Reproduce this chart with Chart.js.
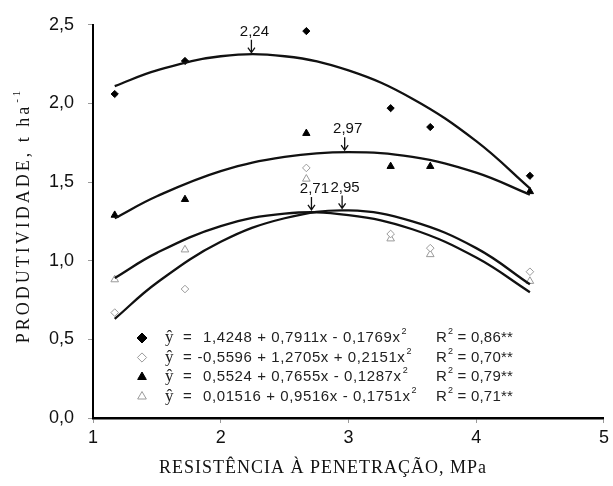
<!DOCTYPE html>
<html>
<head>
<meta charset="utf-8">
<script src="https://cdn.jsdelivr.net/npm/chart.js@4.4.1/dist/chart.umd.min.js"></script>
<style>
  html, body { margin: 0; padding: 0; background: #fff; }
</style>
</head>
<body>
<canvas id="grafico" width="613" height="486"></canvas>
<script>
// valores (resistência à penetração x produtividade)
const resistencia = [1.17, 1.72, 2.67, 3.33, 3.64, 4.42];
const prodCheio = [2.06, 2.27, 2.46, 1.97, 1.85, 1.54];     // losango cheio
const prodVazio = [0.67, 0.82, 1.59, 1.17, 1.08, 0.93];     // losango vazio
const prodTriCheio = [1.29, 1.39, 1.81, 1.60, 1.60, 1.44];  // triângulo cheio
const prodTriVazio = [0.88, 1.07, 1.52, 1.14, 1.04, 0.87];  // triângulo vazio

// curvas ajustadas, lidas ao longo do traço
const curvaX = [1.17, 1.5, 2.0, 2.5, 3.0, 3.5, 4.0, 4.42];
const curvaCheio = [2.11, 2.21, 2.30, 2.30, 2.21, 2.03, 1.76, 1.46];
const curvaVazio = [0.63, 0.86, 1.12, 1.27, 1.32, 1.25, 1.08, 0.85];
const curvaTriCheio = [1.27, 1.41, 1.57, 1.66, 1.69, 1.66, 1.56, 1.42];
const curvaTriVazio = [0.89, 1.05, 1.22, 1.30, 1.29, 1.20, 1.02, 0.80];

// pontos de máxima indicados com setas
const picoX = [2.24, 2.97, 2.71, 2.95];
const picoY = [2.31, 1.69, 1.31, 1.32];
const picoRotulo = ['2,24', '2,97', '2,71', '2,95'];

// equações da legenda
const equacoes = [
  '1,4248 + 0,7911x - 0,1769x',
  '-0,5596 + 1,2705x + 0,2151x',
  '0,5524 + 0,7655x - 0,1287x',
  '0,01516 + 0,9516x - 0,1751x'
];
const r2 = ['0,86**', '0,70**', '0,79**', '0,71**'];

// estilos dos marcadores, na ordem da legenda
const marcadores = [
  { pointStyle: 'rectRot', fill: '#000', stroke: '#000', r: 3.6, rLeg: 5 },
  { pointStyle: 'rectRot', fill: '#fff', stroke: '#9a9a9a', r: 3.8, rLeg: 4.6 },
  { pointStyle: 'triangle', fill: '#000', stroke: '#000', r: 4.2, rLeg: 5 },
  { pointStyle: 'triangle', fill: '#fff', stroke: '#9a9a9a', r: 4.4, rLeg: 5 }
];

const SANS = '"Liberation Sans", Arial, sans-serif';
const SERIF = '"Liberation Serif", "Times New Roman", serif';

function pares(xs, ys) {
  return xs.map((x, i) => ({ x, y: ys[i] }));
}

function curva(ys) {
  return {
    data: pares(curvaX, ys),
    showLine: true,
    borderColor: '#111',
    borderWidth: 2.3,
    pointRadius: 0,
    tension: 0.4,
    fill: false
  };
}

function pontos(ys, m) {
  return {
    data: pares(resistencia, ys),
    showLine: false,
    pointStyle: m.pointStyle,
    pointRadius: m.r,
    pointBackgroundColor: m.fill,
    pointBorderColor: m.stroke,
    pointBorderWidth: 1
  };
}

// texto com expoente (x², R², ha⁻¹)
function textoSobrescrito(ctx, base, sup, x, y, fonte, fonteSup, subida) {
  ctx.font = fonte;
  ctx.fillText(base, x, y);
  const w = ctx.measureText(base).width;
  ctx.font = fonteSup;
  ctx.fillText(sup, x + w + 1, y - subida);
  return w + 1 + ctx.measureText(sup).width;
}

// plugin que desenha títulos, setas e a legenda com as equações
const extras = {
  id: 'extras',
  afterDraw(chart) {
    const ctx = chart.ctx;
    const sx = chart.scales.x;
    const sy = chart.scales.y;
    ctx.save();
    ctx.fillStyle = '#111';
    ctx.strokeStyle = '#111';

    // setas dos pontos de máxima
    ctx.font = '15px ' + SANS;
    ctx.textAlign = 'center';
    ctx.textBaseline = 'middle';
    picoX.forEach((v, i) => {
      const px = sx.getPixelForValue(v);
      const py = sy.getPixelForValue(picoY[i]);
      ctx.lineWidth = 1.3;
      ctx.beginPath();
      ctx.moveTo(px, py - 15);
      ctx.lineTo(px, py - 2);
      ctx.moveTo(px - 3.5, py - 7);
      ctx.lineTo(px, py - 2);
      ctx.lineTo(px + 3.5, py - 7);
      ctx.stroke();
      ctx.fillText(picoRotulo[i], px + 3, py - 23);
    });

    // legenda
    const linhas = [338, 357.5, 377, 396.5];
    linhas.forEach((ly, i) => {
      const m = marcadores[i];
      ctx.fillStyle = m.fill;
      ctx.strokeStyle = m.stroke;
      ctx.lineWidth = 1;
      Chart.helpers.drawPoint(ctx, { pointStyle: m.pointStyle, radius: m.rLeg, rotation: 0, borderWidth: 1 }, 142, ly);

      ctx.fillStyle = '#222';
      ctx.textAlign = 'left';
      ctx.textBaseline = 'middle';
      ctx.font = '17px ' + SERIF;
      ctx.fillText('ŷ', 165, ly);
      ctx.font = '15px ' + SANS;
      ctx.fillText('=', 183, ly);

      ctx.letterSpacing = '0.6px';
      let x0 = 203;
      ctx.font = '15px ' + SANS;
      if (equacoes[i].startsWith('-')) x0 -= ctx.measureText('-').width;
      textoSobrescrito(ctx, equacoes[i], '2', x0, ly, '15px ' + SANS, '9px ' + SANS, 6);

      ctx.letterSpacing = '0.2px';
      const w = textoSobrescrito(ctx, 'R', '2', 436, ly, '15px ' + SANS, '9px ' + SANS, 6);
      ctx.font = '15px ' + SANS;
      ctx.fillText(' = ' + r2[i], 436 + w, ly);
      ctx.letterSpacing = '0px';
    });

    // título do eixo x
    ctx.fillStyle = '#111';
    ctx.textAlign = 'center';
    ctx.textBaseline = 'middle';
    ctx.font = '18px ' + SERIF;
    ctx.letterSpacing = '1px';
    ctx.fillText('RESISTÊNCIA À PENETRAÇÃO, MPa', 323, 468);

    // título do eixo y, girado
    ctx.translate(24, 216);
    ctx.rotate(-Math.PI / 2);
    ctx.letterSpacing = '3px';
    ctx.font = '18px ' + SERIF;
    const base = 'PRODUTIVIDADE, t ha';
    const wb = ctx.measureText(base).width;
    ctx.font = '11px ' + SERIF;
    const ws = ctx.measureText('-1').width;
    const total = wb + ws;
    ctx.textAlign = 'left';
    textoSobrescrito(ctx, base, '-1', -total / 2, 0, '18px ' + SERIF, '11px ' + SERIF, 7);
    ctx.restore();
  }
};

const datasets = [
  curva(curvaCheio),
  curva(curvaVazio),
  curva(curvaTriCheio),
  curva(curvaTriVazio),
  pontos(prodCheio, marcadores[0]),
  pontos(prodVazio, marcadores[1]),
  pontos(prodTriCheio, marcadores[2]),
  pontos(prodTriVazio, marcadores[3])
];

const ctx = document.getElementById('grafico').getContext('2d');
new Chart(ctx, {
  type: 'scatter',
  data: { datasets },
  options: {
    responsive: false,
    animation: false,
    layout: { padding: { top: 24, right: 6, left: 0, bottom: 0 } },
    plugins: {
      legend: { display: false },
      tooltip: { enabled: false }
    },
    scales: {
      x: {
        type: 'linear',
        min: 1,
        max: 5,
        ticks: {
          stepSize: 1,
          color: '#111',
          padding: 4,
          font: { family: SANS, size: 18 }
        },
        grid: { drawOnChartArea: false, drawTicks: true, tickLength: 5, color: '#9a9a9a', tickWidth: 1 },
        border: { display: true, color: '#000', width: 2.5 },
        afterFit(s) { s.height = 68; }
      },
      y: {
        min: 0,
        max: 2.5,
        ticks: {
          stepSize: 0.5,
          color: '#111',
          padding: 14,
          font: { family: SANS, size: 18 },
          callback: v => v.toFixed(1).replace('.', ',')
        },
        grid: { drawOnChartArea: false, drawTicks: true, tickLength: 5, color: '#9a9a9a', tickWidth: 1 },
        border: { display: true, color: '#000', width: 2 },
        afterFit(s) { s.width = 93; }
      }
    }
  },
  plugins: [extras]
});
</script>
</body>
</html>
